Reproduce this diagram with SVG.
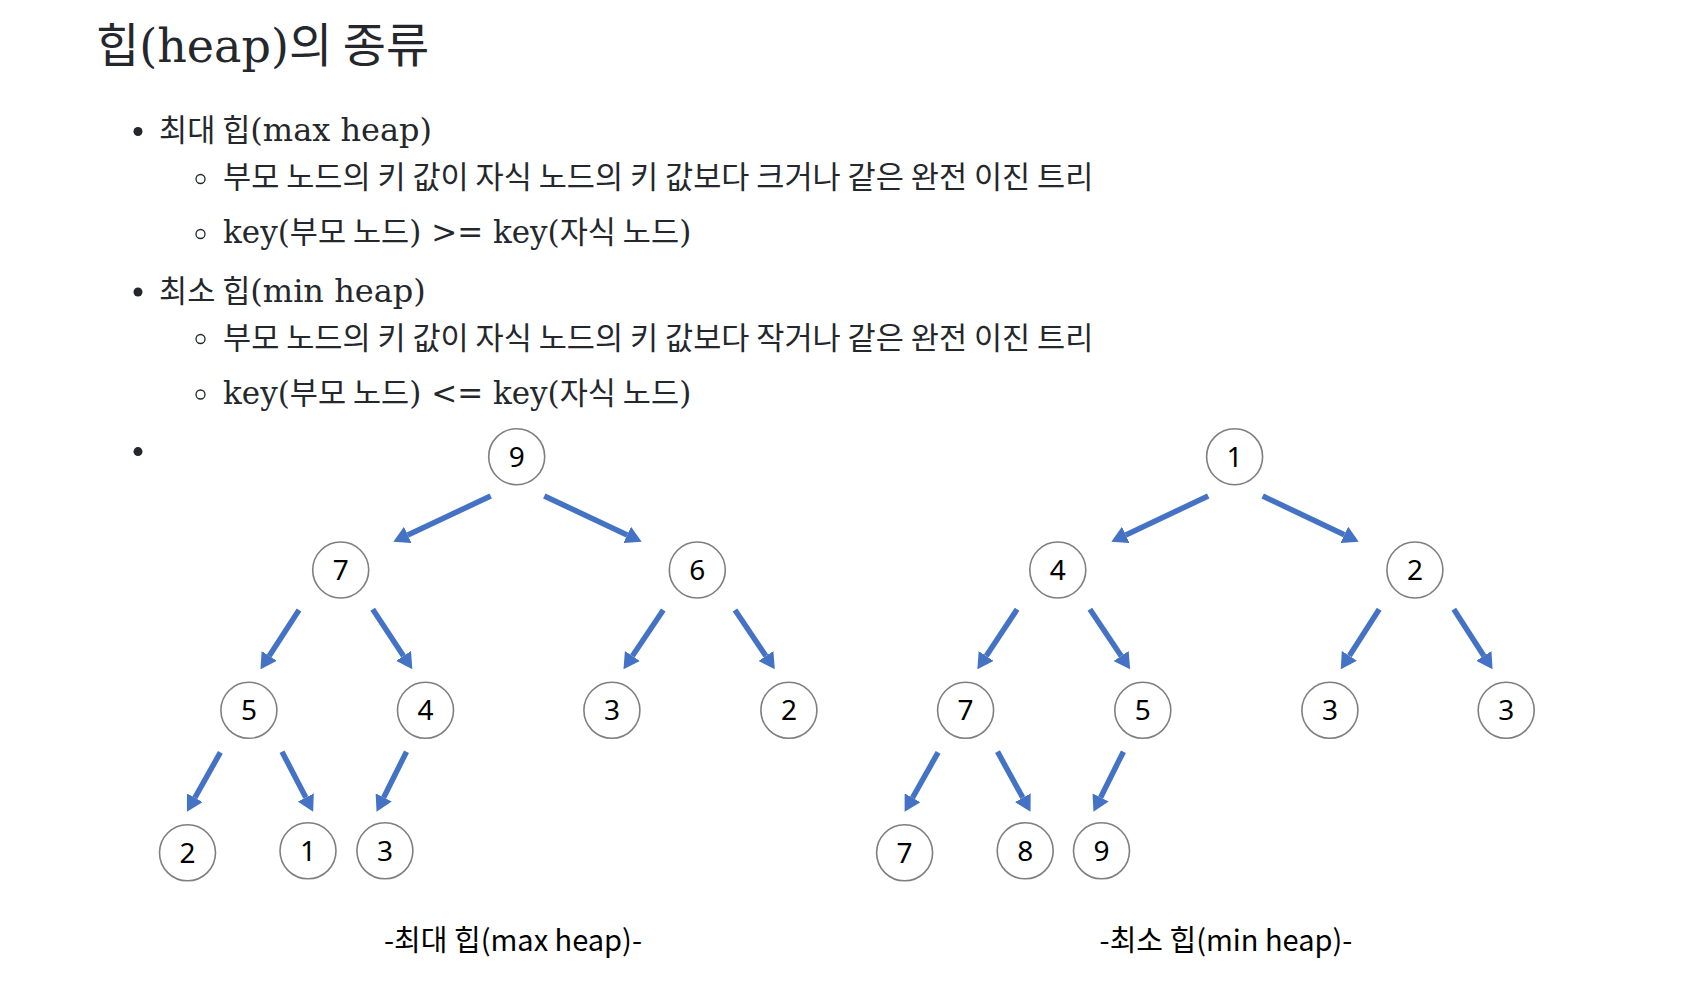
<svg xmlns="http://www.w3.org/2000/svg" width="1690" height="998" viewBox="0 0 1690 998">
<style>
.t{fill:#24272b}
.ttl{font-family:"DejaVu Serif","Noto Sans CJK KR",serif;font-size:46px}
.ttl .k{font-family:"Noto Sans CJK KR",sans-serif;font-size:47px}
.li{font-family:"DejaVu Serif","Noto Sans CJK KR",serif;font-size:32px}
.li.kl{font-size:31px}
.li .k{font-family:"Noto Sans CJK KR",sans-serif;font-size:30.6px}
.ko{font-family:"Noto Sans CJK KR",sans-serif;font-size:30.6px}
.dot{fill:#24272b}
.ring{fill:none;stroke:#24272b;stroke-width:1.3}
.nd circle{fill:#fff;stroke:#7f7f7f;stroke-width:1.6}
.nd text{font-family:"Noto Sans","Noto Sans CJK KR",sans-serif;font-size:28px;fill:#000;text-anchor:middle}
.cap{font-family:"Noto Sans CJK KR",sans-serif;font-size:29px;fill:#000;text-anchor:middle}
.edge line{stroke:#4472c4;stroke-width:5.5;marker-end:url(#ah)}
</style>
<defs>
<marker id="ah" markerUnits="userSpaceOnUse" viewBox="0 0 16 18" markerWidth="16" markerHeight="18" refX="0" refY="9" orient="auto">
<path d="M0,0 L16,9 L0,18 z" fill="#4472c4"/>
</marker>
</defs>
<rect width="1690" height="998" fill="#fff"/>

<g id="title"><text class="t ttl" x="96" y="62"><tspan class="k">힙</tspan>(heap)<tspan class="k">의 종류</tspan></text></g>

<g id="list">
<circle class="dot" cx="138" cy="131.5" r="4.5"/>
<text class="t li" x="159" y="141"><tspan class="k">최대 힙</tspan>(max heap)</text>
<circle class="ring" cx="200.5" cy="179" r="4.5"/>
<text class="t ko" x="223" y="188">부모 노드의 키 값이 자식 노드의 키 값보다 크거나 같은 완전 이진 트리</text>
<circle class="ring" cx="200.5" cy="234" r="4.5"/>
<text class="t li kl" x="223" y="243">key(<tspan class="k">부모 노드</tspan>) &gt;= key(<tspan class="k">자식 노드</tspan>)</text>
<circle class="dot" cx="138" cy="292" r="4.5"/>
<text class="t li" x="159" y="301.6"><tspan class="k">최소 힙</tspan>(min heap)</text>
<circle class="ring" cx="200.5" cy="339" r="4.5"/>
<text class="t ko" x="223" y="348.6">부모 노드의 키 값이 자식 노드의 키 값보다 작거나 같은 완전 이진 트리</text>
<circle class="ring" cx="200.5" cy="394.5" r="4.5"/>
<text class="t li kl" x="223" y="403.6">key(<tspan class="k">부모 노드</tspan>) &lt;= key(<tspan class="k">자식 노드</tspan>)</text>
<circle class="dot" cx="138" cy="451.6" r="4.5"/>
</g>

<g id="connectors" class="edge">
<line x1="490.7" y1="496" x2="407.8" y2="534.9"/>
<line x1="544.3" y1="496" x2="627.2" y2="534.9"/>
<line x1="299" y1="610" x2="269.2" y2="655.9"/>
<line x1="372.7" y1="609.3" x2="403.5" y2="655.9"/>
<line x1="663.3" y1="610" x2="632.4" y2="656"/>
<line x1="735" y1="610" x2="765.9" y2="656"/>
<line x1="220.4" y1="752.3" x2="194.8" y2="797.8"/>
<line x1="282" y1="751.7" x2="305.8" y2="797.5"/>
<line x1="406.5" y1="751.7" x2="383.7" y2="797.4"/>
<line x1="1208.2" y1="496" x2="1125.8" y2="534.9"/>
<line x1="1262.7" y1="496" x2="1344.3" y2="534.8"/>
<line x1="1017.1" y1="609.3" x2="986.2" y2="656"/>
<line x1="1089.9" y1="609.3" x2="1121.2" y2="656"/>
<line x1="1379.2" y1="609.3" x2="1349.4" y2="655.8"/>
<line x1="1453.8" y1="609.3" x2="1483.9" y2="655.9"/>
<line x1="938.1" y1="752.3" x2="912.5" y2="797.8"/>
<line x1="997.5" y1="751.7" x2="1022.8" y2="797.7"/>
<line x1="1123.4" y1="751.7" x2="1100.6" y2="797.4"/>
</g>

<g id="max-9" class="nd"><circle cx="516.7" cy="456.7" r="28"/><text x="516.7" y="466.7">9</text></g>
<g id="max-7" class="nd"><circle cx="340.7" cy="570" r="28"/><text x="340.7" y="580">7</text></g>
<g id="max-6" class="nd"><circle cx="697.3" cy="570" r="28"/><text x="697.3" y="580">6</text></g>
<g id="max-5" class="nd"><circle cx="248.9" cy="710.3" r="28"/><text x="248.9" y="720.3">5</text></g>
<g id="max-4" class="nd"><circle cx="425.5" cy="710.3" r="28"/><text x="425.5" y="720.3">4</text></g>
<g id="max-3a" class="nd"><circle cx="611.9" cy="710.3" r="28"/><text x="611.9" y="720.3">3</text></g>
<g id="max-2a" class="nd"><circle cx="788.9" cy="710.3" r="28"/><text x="788.9" y="720.3">2</text></g>
<g id="max-2b" class="nd"><circle cx="187.5" cy="852.8" r="28"/><text x="187.5" y="862.8">2</text></g>
<g id="max-1" class="nd"><circle cx="308" cy="850.8" r="28"/><text x="308" y="860.8">1</text></g>
<g id="max-3b" class="nd"><circle cx="384.9" cy="850.8" r="28"/><text x="384.9" y="860.8">3</text></g>

<g id="min-1" class="nd"><circle cx="1234.6" cy="456.7" r="28"/><text x="1234.6" y="466.7">1</text></g>
<g id="min-4" class="nd"><circle cx="1057.8" cy="570" r="28"/><text x="1057.8" y="580">4</text></g>
<g id="min-2" class="nd"><circle cx="1414.9" cy="570" r="28"/><text x="1414.9" y="580">2</text></g>
<g id="min-7a" class="nd"><circle cx="965.6" cy="710.3" r="28"/><text x="965.6" y="720.3">7</text></g>
<g id="min-5" class="nd"><circle cx="1142.8" cy="710.3" r="28"/><text x="1142.8" y="720.3">5</text></g>
<g id="min-3a" class="nd"><circle cx="1329.9" cy="710.3" r="28"/><text x="1329.9" y="720.3">3</text></g>
<g id="min-3b" class="nd"><circle cx="1506.2" cy="710.3" r="28"/><text x="1506.2" y="720.3">3</text></g>
<g id="min-7b" class="nd"><circle cx="904.6" cy="852.8" r="28"/><text x="904.6" y="862.8">7</text></g>
<g id="min-8" class="nd"><circle cx="1025.2" cy="850.8" r="28"/><text x="1025.2" y="860.8">8</text></g>
<g id="min-9" class="nd"><circle cx="1101.5" cy="850.8" r="28"/><text x="1101.5" y="860.8">9</text></g>

<g id="captions">
<text class="cap" x="513" y="951">-최대 힙(max heap)-</text>
<text class="cap" x="1226" y="951">-최소 힙(min heap)-</text>
</g>
</svg>
